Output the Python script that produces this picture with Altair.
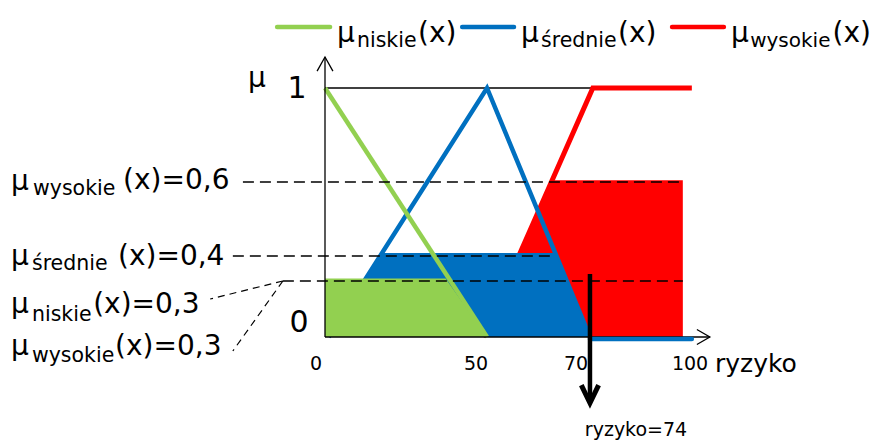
import altair as alt
import pandas as pd

# ---------------- data ----------------
# membership functions: risk (x) against membership degree (mu)
niskie_x = [0, 45]
niskie_mu = [1.0, 0.0]
srednie_x = [1, 45, 73.6]
srednie_mu = [0.0, 1.0, 0.0]
srednie_tail_x = [73.6, 101.9]
srednie_tail_mu = [-0.008, -0.008]
wysokie_x = [43.9, 74.4, 101.9]
wysokie_mu = [0.0, 1.0, 1.0]

# activated (clipped) regions
niskie_cut_x = [0, 33.5, 45]
niskie_cut_mu = [0.235, 0.235, 0.0]
srednie_cut_x = [1, 15.8, 64.0, 73.6]
srednie_cut_mu = [0.0, 0.337, 0.337, 0.0]
wysokie_cut_x = [43.9, 63.1, 99.4]
wysokie_cut_mu = [0.0, 0.63, 0.63]

# thin guide at mu = 1
top_x = [0, 74.4]
top_mu = [1.0, 1.0]

# dashed level lines (mu = 0.6, 0.4, 0.3)
level_mu = [0.6225, 0.3253, 0.2249]
level_x0 = [-22.8, -25.6, -11.7]
level_x1 = [99.4, 63.9, 99.4]
# dashed leader lines to the two 0.3 labels
leader_x0 = [-11.7, -11.7]
leader_mu0 = [0.2249, 0.2249]
leader_x1 = [-31.9, -25.6]
leader_mu1 = [0.1526, -0.0562]

# axes
xaxis_x = [0, 106.9]
xaxis_mu = [0, 0]
xhead_x = [103.3, 106.9, 103.3]
xhead_mu = [0.030, 0.0, -0.030]
yaxis_x = [0, 0]
yaxis_mu = [0, 1.1245]
yhead_x = [-2.2, 0, 2.2]
yhead_mu = [1.068, 1.1245, 1.068]

# crisp output arrow (ryzyko = 74)
crisp_x = [73.6, 73.6]
crisp_mu = [0.253, -0.255]
crisp_head_x = [71.2, 73.6, 76.0]
crisp_head_mu = [-0.193, -0.265, -0.193]

# legend samples
legend_series = ["niskie", "średnie", "wysokie"]
legend_x0 = [-13.3, 38.1, 96.4]
legend_x1 = [1.4, 52.5, 110.8]
legend_mu = [1.245, 1.245, 1.245]

colors = {"niskie": "#92D050", "średnie": "#0070C0", "wysokie": "#FF0000"}

# texts (left aligned)
lt_text = ["μ", "wysokie", "(x)=0,6",
           "μ", "średnie", "(x)=0,4",
           "μ", "niskie", "(x)=0,3",
           "μ", "wysokie", "(x)=0,3",
           "μ", "niskie", "(x)",
           "μ", "średnie", "(x)",
           "μ", "wysokie", "(x)",
           "μ", "ryzyko"]
lt_x = [-87.2, -81.1, -56.1,
        -87.2, -81.4, -57.5,
        -87.2, -81.4, -64.4,
        -87.2, -81.4, -58.3,
        3.33, 8.89, 25.83,
        54.44, 60.0, 81.39,
        112.8, 118.1, 141.0,
        -21.4, 108.33]
lt_mu = [0.5904, 0.5703, 0.5944,
         0.2892, 0.2691, 0.2892,
         0.0964, 0.0643, 0.0964,
         -0.0723, -0.1004, -0.0723,
         1.1847, 1.1647, 1.1847,
         1.1847, 1.1647, 1.1847,
         1.1847, 1.1647, 1.1847,
         1.004, -0.1406]
lt_size = [28, 20.5, 28,
           28, 20.5, 28,
           28, 20.5, 28,
           28, 20.5, 28,
           28, 20.5, 28,
           28, 20.5, 28,
           28, 20, 28,
           28, 25]

# texts (centred)
ct_text = ["1", "0", "0", "50", "70", "100", "ryzyko=74"]
ct_x = [-7.78, -7.22, -2.5, 41.94, 69.72, 101.39, 86.39]
ct_mu = [0.9598, 0.0201, -0.1325, -0.1325, -0.1325, -0.1325, -0.3976]
ct_size = [30, 30, 19, 19, 19, 19, 19]

# ---------------- chart ----------------
XS = alt.Scale(domain=[-88.056, 150.833], nice=False, zero=False)
YS = alt.Scale(domain=[-0.3655, 1.3213], nice=False, zero=False)
FONT = "DejaVu Sans"


def enc_xy(chart):
    return chart.encode(
        x=alt.X("x:Q", scale=XS, axis=None),
        y=alt.Y("y:Q", scale=YS, axis=None),
    )


def line(xs, ys, color, width, dash=None, cap="butt"):
    df = pd.DataFrame({"x": xs, "y": ys, "i": list(range(len(xs)))})
    kw = dict(color=color, strokeWidth=width, strokeCap=cap, strokeJoin="miter")
    if dash:
        kw["strokeDash"] = dash
    return enc_xy(alt.Chart(df).mark_line(**kw)).encode(order="i:Q")


def segs(x0, y0, x1, y1, color, width, dash=None):
    rows = []
    for k in range(len(x0)):
        rows.append({"x": x0[k], "y": y0[k], "g": k, "i": 0})
        rows.append({"x": x1[k], "y": y1[k], "g": k, "i": 1})
    df = pd.DataFrame(rows)
    kw = dict(color=color, strokeWidth=width)
    if dash:
        kw["strokeDash"] = dash
    return enc_xy(alt.Chart(df).mark_line(**kw)).encode(order="i:Q", detail="g:N")


def area(xs, ys, color):
    df = pd.DataFrame({"x": xs, "y": ys, "y0": [0.0] * len(xs)})
    return enc_xy(alt.Chart(df).mark_area(color=color, opacity=1)).encode(y2="y0:Q")


def texts(t, xs, ys, sizes, align):
    df = pd.DataFrame({"t": t, "x": xs, "y": ys, "s": sizes})
    return enc_xy(
        alt.Chart(df).mark_text(align=align, baseline="alphabetic", font=FONT, color="black")
    ).encode(text="t:N", size=alt.Size("s:Q", scale=None, legend=None))


legend_rows = []
for k, s in enumerate(legend_series):
    legend_rows.append({"x": legend_x0[k], "y": legend_mu[k], "s": s, "i": 0})
    legend_rows.append({"x": legend_x1[k], "y": legend_mu[k], "s": s, "i": 1})
legend_df = pd.DataFrame(legend_rows)
legend = enc_xy(alt.Chart(legend_df).mark_line(strokeWidth=4.5, strokeCap="round")).encode(
    color=alt.Color("s:N", scale=alt.Scale(domain=legend_series,
                                           range=[colors[s] for s in legend_series]), legend=None),
    detail="s:N",
    order="i:Q",
)

layers = [
    line(top_x, top_mu, "black", 1.3),
    line(wysokie_x, wysokie_mu, colors["wysokie"], 5),
    area(wysokie_cut_x, wysokie_cut_mu, colors["wysokie"]),
    line(srednie_x, srednie_mu, colors["średnie"], 4.5),
    area(srednie_cut_x, srednie_cut_mu, colors["średnie"]),
    area(niskie_cut_x, niskie_cut_mu, colors["niskie"]),
    line(niskie_x, niskie_mu, colors["niskie"], 4.5),
    line(xaxis_x, xaxis_mu, "black", 1.3),
    line(xhead_x, xhead_mu, "black", 1.3),
    line(yaxis_x, yaxis_mu, "black", 1.3),
    line(yhead_x, yhead_mu, "black", 1.3),
    line(srednie_tail_x, srednie_tail_mu, colors["średnie"], 4.5, cap="round"),
    segs(level_x0, level_mu, level_x1, level_mu, "black", 1.5, dash=[11, 6]),
    segs(leader_x0, leader_mu0, leader_x1, leader_mu1, "black", 1.2, dash=[7, 5]),
    line(crisp_x, crisp_mu, "black", 4.5),
    line(crisp_head_x, crisp_head_mu, "black", 5),
    legend,
    texts(lt_text, lt_x, lt_mu, lt_size, "left"),
    texts(ct_text, ct_x, ct_mu, ct_size, "center"),
]

chart = alt.layer(*layers).properties(
    width=860,
    height=420,
    autosize=alt.AutoSizeParams(type="none"),
    padding={"left": 0, "top": 0, "right": 4, "bottom": 13},
).configure_view(stroke=None)

chart.save("out.html", embed_options={"renderer": "svg", "actions": False})
